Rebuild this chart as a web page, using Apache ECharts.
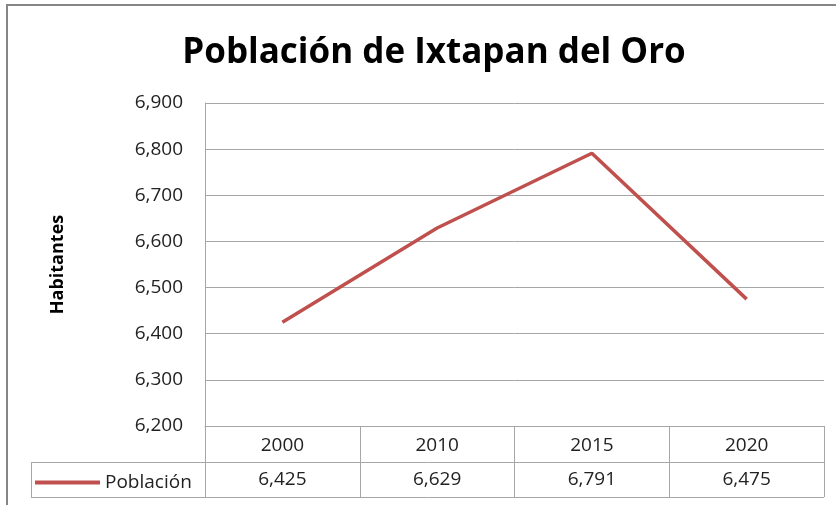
<!DOCTYPE html>
<html>
<head>
<meta charset="utf-8">
<script src="https://cdn.jsdelivr.net/npm/echarts@6/dist/echarts.min.js"></script>
<style>
  html, body { margin: 0; padding: 0; background: #fff; }
  #chart { width: 836px; height: 505px; }
</style>
</head>
<body>
<div id="chart"></div>
<script>
// data
const years = ['2000', '2010', '2015', '2020'];
const poblacion = [6425, 6629, 6791, 6475];
const seriesName = 'Población';

// plot area box (px)
const plotLeft = 205, plotRight = 824, plotTop = 103, plotBottom = 426;
const rowH = 36;
const tableLeft = 31;
const lineGray = '#a6a6a6';
const font = "'Open Sans', 'Noto Sans', sans-serif";

const fmt = v => v.toLocaleString('en-US');

const chart = echarts.init(document.getElementById('chart'));

chart.setOption({
  animation: false,
  backgroundColor: '#fff',
  title: {
    text: 'Población de Ixtapan del Oro',
    left: 429,
    textAlign: 'center',
    top: 31,
    textStyle: { fontFamily: font, fontWeight: 'bold', fontSize: 35, color: '#000' }
  },
  legend: {
    data: [seriesName],
    left: tableLeft - 1,
    top: plotBottom + rowH + 6,
    icon: 'rect',
    itemWidth: 65,
    itemHeight: 4,
    textStyle: { fontFamily: font, fontSize: 19, color: '#222' }
  },
  grid: {
    left: plotLeft,
    right: 836 - plotRight,
    top: plotTop,
    bottom: 505 - plotBottom
  },
  xAxis: [
    {
      type: 'category',
      data: years,
      boundaryGap: true,
      axisLine: { show: true, lineStyle: { color: lineGray, width: 1 } },
      axisTick: { show: true, length: rowH * 2 - 1, lineStyle: { color: lineGray } },
      axisLabel: { margin: 10, fontFamily: font, fontSize: 19, color: '#222' }
    },
    {
      type: 'category',
      data: poblacion.map(fmt),
      position: 'bottom',
      offset: rowH,
      boundaryGap: true,
      axisLine: { show: false },
      axisTick: { show: false },
      axisLabel: { margin: 8, fontFamily: font, fontSize: 19, color: '#222' }
    }
  ],
  yAxis: {
    type: 'value',
    min: 6200,
    max: 6900,
    interval: 100,
    name: 'Habitantes',
    nameLocation: 'middle',
    nameGap: 138,
    nameTextStyle: { fontFamily: font, fontWeight: 'bold', fontSize: 18, color: '#000' },
    axisLine: { show: true, lineStyle: { color: lineGray } },
    axisTick: { show: false },
    splitLine: { lineStyle: { color: lineGray, width: 1 } },
    axisLabel: { margin: 22, fontFamily: font, fontSize: 19, color: '#222', formatter: fmt }
  },
  series: [{
    name: seriesName,
    type: 'line',
    data: poblacion,
    symbol: 'none',
    lineStyle: { color: '#c0504d', width: 3.5 },
    itemStyle: { color: '#c0504d' }
  }],
  graphic: [
    // outer chart frame
    { type: 'rect', shape: { x: 7, y: 5, width: 860, height: 530 },
      style: { fill: 'none', stroke: '#868686', lineWidth: 2 }, silent: true },
    // data table lines
    { type: 'line', shape: { x1: tableLeft, y1: plotBottom + rowH + 0.5, x2: plotRight, y2: plotBottom + rowH + 0.5 },
      style: { stroke: lineGray, lineWidth: 1 } },
    { type: 'line', shape: { x1: tableLeft, y1: plotBottom + rowH * 2 - 0.5, x2: plotRight, y2: plotBottom + rowH * 2 - 0.5 },
      style: { stroke: lineGray, lineWidth: 1 } },
    { type: 'line', shape: { x1: tableLeft + 0.5, y1: plotBottom + rowH, x2: tableLeft + 0.5, y2: plotBottom + rowH * 2 },
      style: { stroke: lineGray, lineWidth: 1 } }
  ]
});
</script>
</body>
</html>
